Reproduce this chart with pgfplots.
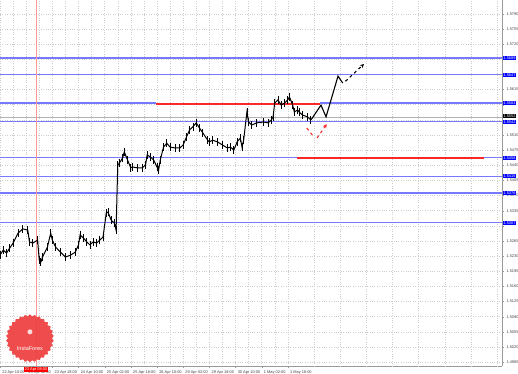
\documentclass[border=0pt]{standalone}
\usepackage{pgfplots}
\pgfplotsset{compat=1.18}
\usepackage{fontspec}
\setmainfont{Liberation Sans}
\usetikzlibrary{shapes.geometric,arrows.meta}
\definecolor{lvl}{RGB}{120,120,255}
\definecolor{boxblue}{RGB}{0,0,255}
\definecolor{rl}{RGB}{250,40,40}
\definecolor{vl}{RGB}{255,150,150}
\definecolor{logo}{RGB}{238,62,62}
\definecolor{gridc}{RGB}{205,205,205}
\pgfplotstableread{
x y
0 1.5232
2 1.5244
4 1.5237
6 1.5249
8 1.5260
11 1.5283
14 1.5293
17 1.5290
18 1.5263
20 1.5260
23 1.5267
24 1.5221
25 1.5216
26 1.5228
29 1.5251
31 1.5283
32 1.5267
34 1.5251
37 1.5239
40 1.5228
43 1.5232
46 1.5239
48 1.5256
49 1.5279
51 1.5272
53 1.5263
55 1.5256
57 1.5263
59 1.5260
61 1.5267
63 1.5274
65 1.5330
66 1.5332
68 1.5313
70 1.5306
71 1.5290
72 1.5440
73 1.5445
75 1.5457
76 1.5471
78 1.5452
80 1.5434
81 1.5436
84 1.5434
87 1.5434
89 1.5441
90 1.5464
92 1.5459
94 1.5452
96 1.5436
97 1.5429
98 1.5452
100 1.5482
102 1.5491
104 1.5482
107 1.5480
110 1.5480
112 1.5487
114 1.5505
116 1.5522
118 1.5529
120 1.5538
122 1.5526
124 1.5515
127 1.5498
128 1.5494
130 1.5498
133 1.5494
136 1.5487
139 1.5480
141 1.5482
143 1.5475
145 1.5494
147 1.5503
148 1.5482
149 1.5498
151 1.5563
152 1.5540
154 1.5533
157 1.5538
161 1.5540
164 1.5538
166 1.5545
167 1.5552
168 1.5584
170 1.5591
172 1.5579
174 1.5584
176 1.5591
177 1.5598
179 1.5579
180 1.5563
182 1.5568
183 1.5563
185 1.5556
188 1.5552
190 1.5545
}\price
\begin{document}
\begin{tikzpicture}
\begin{axis}[
  scale only axis, width=502pt, height=366pt,
  xmin=0, xmax=307, ymin=1.4976, ymax=1.5822,
  axis x line=bottom, axis y line=right,
  axis line style={-, gray!80},
  clip=false,
  tick align=outside, major tick length=2pt, minor tick length=0pt,
  tick style={gray!80},
  xtick={0,16,...,176},
  minor x tick num=1,
  extra x ticks={192,208,...,304},
  extra x tick labels={},
  extra x tick style={grid=major, major tick length=0pt},
  xticklabels={22 Apr 10:00,23 Apr 02:00,23 Apr 18:00,24 Apr 10:00,25 Apr 02:00,25 Apr 18:00,26 Apr 10:00,29 Apr 02:00,29 Apr 18:00,30 Apr 10:00,1 May 02:00,1 May 18:00},
  x tick label style={font=\fontsize{3.9}{4.5}\selectfont, anchor=north west, xshift=-1.2pt, yshift=1pt, text=black!75},
  ytick={1.4985,1.5020,1.5055,1.5090,1.5125,1.5160,1.5195,1.5230,1.5265,1.5300,1.5335,1.5370,1.5405,1.5440,1.5475,1.5510,1.5545,1.5580,1.5615,1.5650,1.5685,1.5720,1.5755,1.5790},
  yticklabels={1.4985,1.5020,1.5055,1.5090,1.5125,1.5160,1.5195,1.5230,1.5265,{},1.5335,1.5370,1.5405,1.5440,1.5475,1.5510,{},{},1.5615,{},{},1.5720,1.5755,1.5790},
  y tick label style={font=\fontsize{3.9}{4.5}\selectfont, text=black!75, xshift=-1pt},
  xmajorgrids, xminorgrids, ymajorgrids,
  grid style={dotted, gridc, line width=0.4pt},
  minor grid style={dotted, gridc, line width=0.4pt},
]
% level lines
\addplot[draw=lvl, line width=1.1pt] coordinates {(0,1.5688) (307,1.5688)};
\addplot[draw=lvl, line width=1.1pt] coordinates {(0,1.5649) (307,1.5649)};
\addplot[draw=lvl, line width=1.1pt] coordinates {(0,1.5584) (95.4,1.5584)};
\addplot[draw=lvl, line width=1.1pt] coordinates {(195.7,1.5584) (307,1.5584)};
\addplot[draw=gray!60, line width=0.4pt] coordinates {(0,1.5552) (307,1.5552)};
\addplot[draw=lvl, line width=1.1pt] coordinates {(0,1.5541) (307,1.5541)};
\addplot[draw=lvl, line width=1.1pt] coordinates {(0,1.5457) (181.6,1.5457)};
\addplot[draw=lvl, line width=1.1pt] coordinates {(296,1.5457) (307,1.5457)};
\addplot[draw=lvl, line width=1.1pt] coordinates {(0,1.5415) (307,1.5415)};
\addplot[draw=lvl, line width=1.1pt] coordinates {(0,1.5376) (307,1.5376)};
\addplot[draw=lvl, line width=1.1pt] coordinates {(0,1.5307) (307,1.5307)};
% vertical red line
\addplot[draw=vl, line width=0.6pt] coordinates {(22,1.4976) (22,1.5822)};
% red levels
\addplot[draw=rl, line width=1.8pt] coordinates {(95.4,1.5582) (195.7,1.5582)};
\addplot[draw=rl, line width=1.6pt] coordinates {(181.6,1.5457) (296,1.5457)};
% price bars
\addplot[black, line width=1pt, error bars/.cd, y dir=both, y fixed=0.0009, error mark=none, error bar style={line width=0.8pt, black}] table[x=x,y=y] {\price};
% forecast path
\addplot[black, line width=1.1pt] coordinates {(190.2,1.5545) (196.3,1.5579) (199.4,1.5552) (206.7,1.5646) (209.6,1.5630)};
\addplot[black, line width=1.1pt, dashed, -{Stealth[length=4pt,width=4pt]}] coordinates {(211.2,1.5634) (222.6,1.5674)};
\addplot[draw=rl, line width=1pt, dashed] coordinates {(187.6,1.5526) (191.4,1.5508)};
\addplot[draw=rl, line width=1pt, dashed, -{Stealth[length=4pt,width=4pt]}] coordinates {(193.9,1.5503) (199.8,1.5535)};
% right axis boxes
\begin{scope}[every node/.style={anchor=west, inner xsep=0.7pt, inner ysep=0.6pt, font=\fontsize{3.9}{4.5}\selectfont, text=white, xshift=0.6pt}]
\node[fill=boxblue] at (axis cs:307,1.5688) {1.5689};
\node[fill=boxblue] at (axis cs:307,1.5649) {1.5647};
\node[fill=boxblue] at (axis cs:307,1.5584) {1.5583};
\node[fill=black] at (axis cs:307,1.5553) {1.5552};
\node[fill=boxblue] at (axis cs:307,1.5540) {1.5542};
\node[fill=boxblue] at (axis cs:307,1.5457) {1.5458};
\node[fill=boxblue] at (axis cs:307,1.5415) {1.5415};
\node[fill=boxblue] at (axis cs:307,1.5376) {1.5376};
\node[fill=boxblue] at (axis cs:307,1.5307) {1.5307};
\end{scope}
\node[fill=red, text=white, anchor=north, inner xsep=1.2pt, inner ysep=0.8pt, font=\fontsize{3.9}{4.5}\selectfont, yshift=-0.6pt] at (axis cs:22,1.4976) {23 Apr 08:00};
% logo
\node[star, star points=30, star point ratio=1.09, minimum size=48pt, inner sep=0pt, fill=logo, fill opacity=0.92] at (axis cs:18.3,1.5040) {};
\node[circle, fill=white, minimum size=5pt, inner sep=0pt, fill opacity=0.8] at (axis cs:18.3,1.5055) {};
\node[text=white, font=\fontsize{5.5}{6}\selectfont] at (axis cs:18.3,1.5016) {InstaForex};
\end{axis}
\pgfresetboundingbox
\path[use as bounding box] ([yshift=-7pt]current axis.south west) rectangle ([xshift=16pt]current axis.north east);
\end{tikzpicture}
\end{document}
